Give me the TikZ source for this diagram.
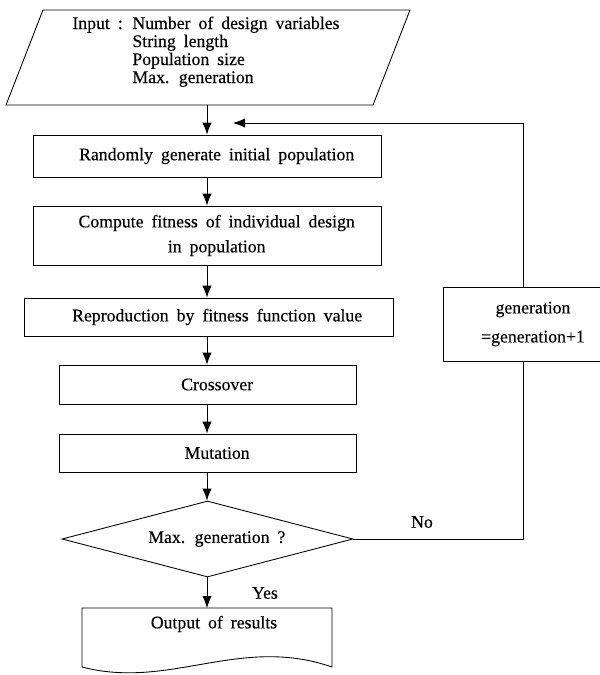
\documentclass[tikz,border=0pt]{standalone}
\usepackage{fontspec}
\setmainfont{Liberation Serif}[WordSpace=1.8,FakeBold=0.3]
\usetikzlibrary{arrows.meta,shapes.geometric}
\newcommand\lsh{\hspace*{14.5pt}}
\begin{document}
\begin{tikzpicture}[x=0.75pt,y=-0.75pt,
  font=\fontsize{13.3}{13.5}\selectfont, line width=0.65pt,
  box/.style={draw, rectangle, inner sep=0pt, align=center},
  lbl/.style={inner sep=0pt},
  arr/.style={-{Latex[length=9pt,width=7pt]}}]
\useasboundingbox (0,0) rectangle (600,675);
\clip (0,0) rectangle (600,675);
\fill[white] (0,0) rectangle (600,675);

% input parallelogram
\coordinate (pTL) at (43,10);
\coordinate (pTR) at (410,10);
\coordinate (pBR) at (373,105);
\coordinate (pBL) at (6,105);
\coordinate (inb) at (207,105);
\draw (pTL) -- (pTR) -- (pBR) -- (pBL) -- cycle;
\node[lbl, anchor=base west] (input) at (72,29) {\begin{tabular}[t]{@{}p{45pt}@{}l@{}}
Input : & Number of design variables\\
 & String length\\
 & Population size\\
 & Max. generation
\end{tabular}};

% process boxes
\node[box, minimum width=261pt, minimum height=31.5pt] (b1) at (207,156) {\lsh Randomly generate initial population};
\node[box, minimum width=261pt, minimum height=44.25pt, font=\fontsize{13.3}{18.75}\selectfont] (b2) at (207,235.5) {\lsh Compute fitness of individual design\\\lsh in population};
\node[box, minimum width=276.75pt, minimum height=28.5pt] (b3) at (208.5,317) {\hspace*{13pt}Reproduction by fitness function value};
\node[box, minimum width=222.75pt, minimum height=29.25pt] (b4) at (207.5,384.5) {\lsh Crossover};
\node[box, minimum width=222.75pt, minimum height=28.5pt] (b5) at (207.5,453) {\lsh Mutation};
\node[draw, diamond, aspect=3.8, inner sep=0pt, minimum width=218.25pt, minimum height=57pt] (dec) at (207.5,539) {\hspace*{14pt}Max. generation ?};

% output document
\coordinate (otop) at (207.5,608);
\draw (82,608) -- (332,608) -- (332,667) .. controls (240,635) and (170,690) .. (82,667) -- cycle;
\node[lbl] (out) at (214,624) {Output of results};

% feedback box
\node[box, minimum width=135pt, minimum height=55.5pt, font=\fontsize{13.3}{21.75}\selectfont] (gen) at (533,324) {generation\\=generation+1};

% main arrows
\draw[arr] (inb) -- (b1.north -| inb);
\draw[arr] (b1) -- (b2);
\draw[arr] (b2.south -| b1.south) -- (b3.north -| b1.south);
\draw[arr] (b3.south -| b1.south) -- (b4.north -| b1.south);
\draw[arr] (b4.south -| b1.south) -- (b5.north -| b1.south);
\draw[arr] (b5.south -| b1.south) -- (dec.north -| b1.south);
\draw[arr] (dec.south -| b1.south) -- (otop -| b1.south);

% feedback loop
\coordinate (fb1) at (523,539);
\coordinate (fb2) at (523,123);
\coordinate (fbtip) at (233,123);
\draw (dec.east) -- (fb1) -- (fb1 |- gen.south);
\draw[arr] (fb1 |- gen.north) -- (fb2) -- (fbtip);

\node[lbl] (no) at (422,522) {No};
\node[lbl] (yes) at (265,593) {Yes};
\end{tikzpicture}
\end{document}
